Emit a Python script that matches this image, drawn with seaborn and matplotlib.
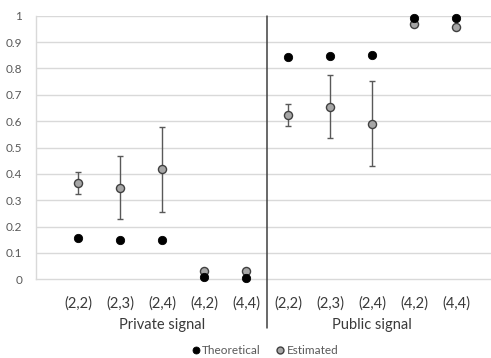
import matplotlib
matplotlib.use("Agg")
import matplotlib.pyplot as plt
from matplotlib.lines import Line2D
from matplotlib.transforms import blended_transform_factory
import numpy as np
import pandas as pd
import seaborn as sns

# Scenario labels and signal groups
conditions = ["(2,2)", "(2,3)", "(2,4)", "(4,2)", "(4,4)",
              "(2,2)", "(2,3)", "(2,4)", "(4,2)", "(4,4)"]
groups = ["Private signal", "Public signal"]

# Theoretical predictions and estimated shares with confidence bounds
theoretical = [0.157, 0.149, 0.149, 0.007, 0.004,
               0.842, 0.846, 0.851, 0.993, 0.993]
estimated = [0.364, 0.347, 0.418, 0.033, 0.033,
             0.622, 0.655, 0.588, 0.969, 0.958]
est_low = [0.323, 0.228, 0.257, 0.026, 0.028,
           0.580, 0.535, 0.429, 0.960, 0.952]
est_high = [0.406, 0.466, 0.577, 0.040, 0.038,
            0.664, 0.776, 0.751, 0.978, 0.964]

df = pd.DataFrame({
    "pos": np.arange(len(conditions)),
    "condition": conditions,
    "Theoretical": theoretical,
    "Estimated": estimated,
    "low": est_low,
    "high": est_high,
})

sns.set_theme(style="white")
plt.rcParams["font.family"] = ["Lato", "DejaVu Sans"]

fig = plt.figure(figsize=(4.91, 3.58), dpi=100)
ax = fig.add_axes([36 / 491, 1 - 279.3 / 358, 455 / 491, (279.3 - 15.7) / 358])

grid_c = "#D9D9D9"
text_c = "#3A3A3A"

# Horizontal gridlines
for yv in np.arange(0.1, 1.01, 0.1):
    ax.axhline(yv, color=grid_c, lw=1.0, zorder=0)

# Error bars for the estimates
ax.errorbar(df["pos"], df["Estimated"],
            yerr=[df["Estimated"] - df["low"], df["high"] - df["Estimated"]],
            fmt="none", ecolor="#595959", elinewidth=1.0, capsize=2.4,
            capthick=1.0, zorder=2)

sns.scatterplot(data=df, x="pos", y="Theoretical", ax=ax, color="black",
                s=36, edgecolor="black", linewidth=0.6, zorder=4, legend=False,
                clip_on=False)
sns.scatterplot(data=df, x="pos", y="Estimated", ax=ax, color="#A6A6A6",
                s=34, edgecolor="#404040", linewidth=1.0, zorder=3, legend=False,
                clip_on=False)

ax.set_xlim(-1.0, 9.83)
ax.set_ylim(0, 1)
ax.set_xlabel("")
ax.set_ylabel("")

ax.set_yticks(np.arange(0, 1.01, 0.1))
ax.set_yticklabels(["0"] + [f"{v:.1f}" for v in np.arange(0.1, 0.95, 0.1)] + ["1"])
ax.tick_params(axis="y", length=0, pad=10, labelsize=8.5, labelcolor="#595959")
ax.set_xticks(df["pos"])
ax.set_xticklabels(conditions)
ax.tick_params(axis="x", length=0, pad=12, labelsize=10.5, labelcolor=text_c)

for side in ["top", "right"]:
    ax.spines[side].set_visible(False)
for side in ["left", "bottom"]:
    ax.spines[side].set_color(grid_c)
    ax.spines[side].set_linewidth(1.0)

# Divider between the two signal groups, extending below the axis
ax.plot([4.5, 4.5], [1.0, -0.185], color="#404040", lw=1.1,
        clip_on=False, zorder=5)

# Group labels under the categories
trans = blended_transform_factory(ax.transData, ax.transAxes)
ax.text(2.0, -0.175, groups[0], transform=trans, ha="center", va="center",
        fontsize=10.5, color=text_c)
ax.text(7.0, -0.175, groups[1], transform=trans, ha="center", va="center",
        fontsize=10.5, color=text_c)

handles = [
    Line2D([], [], marker="o", ls="none", color="black", markersize=5,
           markeredgewidth=0.6),
    Line2D([], [], marker="o", ls="none", markerfacecolor="#A6A6A6",
           markeredgecolor="#404040", markersize=5, markeredgewidth=1.0),
]
fig.legend(handles, ["Theoretical", "Estimated"], loc="center",
           bbox_to_anchor=(264 / 491, 1 - 351 / 358), ncol=2, frameon=False,
           handletextpad=0.0, columnspacing=1.2, handlelength=1.0,
           fontsize=8.5, labelcolor="#595959")

fig.savefig("out.png", dpi=100)
